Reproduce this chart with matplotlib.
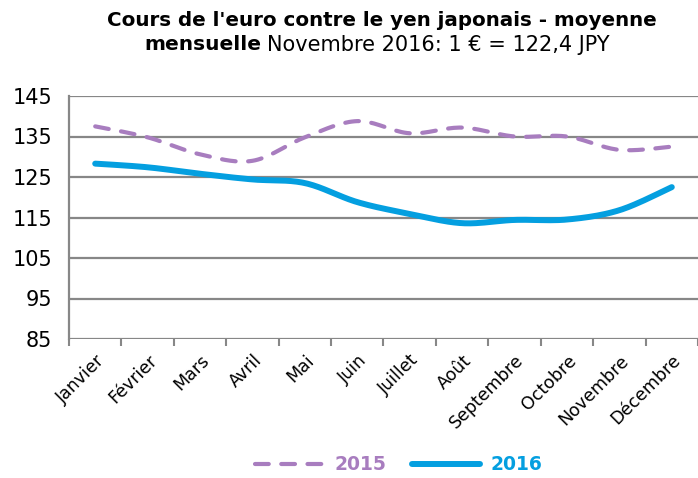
import numpy as np
import matplotlib
matplotlib.use("Agg")
import matplotlib.pyplot as plt

mois = ["Janvier", "Février", "Mars", "Avril", "Mai", "Juin", "Juillet",
        "Août", "Septembre", "Octobre", "Novembre", "Décembre"]
eur_jpy_2015 = [137.5, 134.8, 130.6, 129.0, 134.8, 138.8, 135.8, 137.2, 135.0, 135.0, 131.7, 132.5]
eur_jpy_2016 = [128.3, 127.4, 125.8, 124.4, 123.5, 118.8, 115.9, 113.6, 114.4, 114.5, 116.8, 122.5]
y_ticks = [85, 95, 105, 115, 125, 135, 145]

col_2015 = "#a87dbf"
col_2016 = "#049fe0"
col_grid = "#878787"

plt.rcParams['font.family'] = ['DejaVu Sans']


def lisse(x, y, n=20):
    # courbe lissee facon Excel (Catmull-Rom)
    x = np.asarray(x, float)
    y = np.asarray(y, float)
    px = np.concatenate([[x[0]], x, [x[-1]]])
    py = np.concatenate([[y[0]], y, [y[-1]]])
    xs, ys = [], []
    t = np.linspace(0, 1, n)
    for i in range(1, len(px) - 2):
        p0, p1, p2, p3 = py[i - 1], py[i], py[i + 1], py[i + 2]
        q0, q1, q2, q3 = px[i - 1], px[i], px[i + 1], px[i + 2]
        c1y = p1 + (p2 - p0) / 6
        c2y = p2 - (p3 - p1) / 6
        c1x = q1 + (q2 - q0) / 6
        c2x = q2 - (q3 - q1) / 6
        b = ((1 - t) ** 3, 3 * (1 - t) ** 2 * t, 3 * (1 - t) * t ** 2, t ** 3)
        xs.append(b[0] * q1 + b[1] * c1x + b[2] * c2x + b[3] * q2)
        ys.append(b[0] * p1 + b[1] * c1y + b[2] * c2y + b[3] * p2)
    return np.concatenate(xs), np.concatenate(ys)


fig = plt.figure(figsize=(6.98, 4.78), dpi=100)
ax = fig.add_axes([69 / 698, 1 - 339 / 478, 629 / 698, 243 / 478])

pos = np.arange(len(mois))
x15, y15 = lisse(pos, eur_jpy_2015)
x16, y16 = lisse(pos, eur_jpy_2016)
ax.plot(x15, y15, color=col_2015, lw=3, dashes=(3.3, 3.0), label="2015",
        solid_capstyle="round", dash_capstyle="round")
ax.plot(x16, y16, color=col_2016, lw=4.3, label="2016", solid_capstyle="round")

ax.set_ylim(85, 145)
ax.set_xlim(-0.5, -0.5 + 629 / 52.8)
ax.set_yticks(y_ticks)
ax.yaxis.grid(True, color=col_grid, lw=1.6)
ax.set_axisbelow(True)
ax.tick_params(axis="y", length=0, labelsize=15, pad=12)

ax.set_xticks(pos)
ax.set_xticklabels(mois, rotation=45, ha="right", rotation_mode="anchor", fontsize=12.5)
ax.set_xticks(np.arange(-0.5, 12, 1), minor=True)
ax.tick_params(axis="x", which="major", length=0, pad=9)
ax.tick_params(axis="x", which="minor", length=5, width=1.5, color=col_grid)

for s in ["top", "right", "bottom"]:
    ax.spines[s].set_visible(False)
ax.spines["left"].set_color(col_grid)
ax.spines["left"].set_linewidth(1.6)

fig.text(382 / 698, 1 - 20 / 478, "Cours de l'euro contre le yen japonais - moyenne",
         ha="center", va="center", fontsize=14.3, fontweight="bold")
fig.text(261 / 698, 1 - 45 / 478, "mensuelle", ha="right", va="center",
         fontsize=14.5, fontweight="bold")
fig.text(267 / 698, 1 - 45 / 478, "Novembre 2016: 1 € = 122,4 JPY", ha="left",
         va="center", fontsize=15)

leg = fig.legend(loc="center", bbox_to_anchor=(399 / 698, 1 - 465 / 478), ncol=2,
                 frameon=False, handlelength=3.6, handletextpad=0.6, columnspacing=1.4,
                 prop={"weight": "bold", "size": 13.5})
for txt, c in zip(leg.get_texts(), [col_2015, col_2016]):
    txt.set_color(c)

fig.savefig("out.png", dpi=100)
